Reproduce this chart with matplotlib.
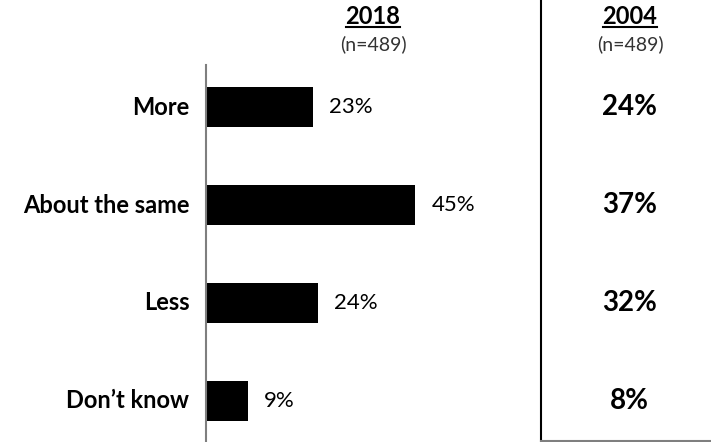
import numpy as np
import matplotlib.pyplot as plt
from matplotlib.lines import Line2D

categories = ['More', 'About the same', 'Less', 'Don\u2019t know']
values_2018 = [23, 45, 24, 9]
values_2004 = [24, 37, 32, 8]
headers = ['2018', '2004']
sample_sizes = ['(n=489)', '(n=489)']

plt.rcParams['font.family'] = ['Lato', 'DejaVu Sans']

W, H = 711, 442
fig = plt.figure(figsize=(W / 100, H / 100), dpi=100)
ax = fig.add_axes([206 / W, 0, (541 - 206) / W, (442 - 65) / H])

y = np.arange(len(categories))
ax.barh(y, values_2018, height=0.41, color='black')
ax.set_xlim(0, 72)
ax.set_ylim(3.42, -0.43)

for s in ['top', 'right', 'bottom']:
    ax.spines[s].set_visible(False)
ax.spines['left'].set_color('#7f7f7f')
ax.spines['left'].set_linewidth(1.5)
ax.set_xticks([])
ax.set_yticks([])

col_2004 = (629 - 206) / 4.65
for yi, cat, v18, v04 in zip(y, categories, values_2018, values_2004):
    ax.text(-3.6, yi, cat, ha='right', va='center', fontsize=17, fontweight='bold')
    ax.text(v18 + 3.5, yi, f'{v18}%', ha='left', va='center', fontsize=16)
    ax.text(col_2004, yi, f'{v04}%', ha='center', va='center', fontsize=20,
            fontweight='bold', clip_on=False)

# column headers
header_x = [373 / W, 630 / W]
head_texts = []
for hx, h, n in zip(header_x, headers, sample_sizes):
    t = fig.text(hx, 1 - 16 / H, h, ha='center', va='center', fontsize=17, fontweight='bold')
    head_texts.append(t)
    fig.text(hx, 1 - 44 / H, n, ha='center', va='center', fontsize=14, color='#333333')

fig.canvas.draw()
r = fig.canvas.get_renderer()
for t in head_texts:
    bb = t.get_window_extent(r)
    yl = (bb.y0 + 1) / H
    fig.add_artist(Line2D([bb.x0 / W, bb.x1 / W], [yl, yl], color='black', lw=1.5))

# right box border
fig.add_artist(Line2D([541 / W, 541 / W], [1, 1.5 / H], color='black', lw=1.5))
fig.add_artist(Line2D([541 / W, 1], [1.5 / H, 1.5 / H], color='#7f7f7f', lw=1.5))

fig.savefig('out.png', dpi=100)
